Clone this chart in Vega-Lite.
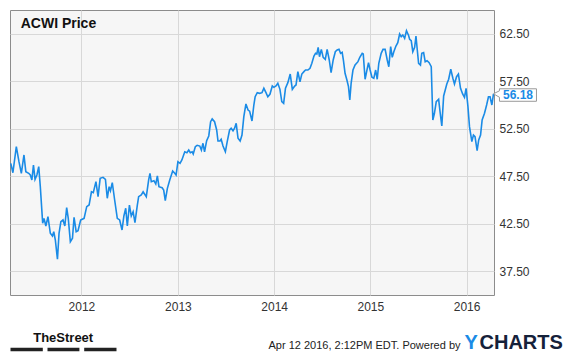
{
  "$schema": "https://vega.github.io/schema/vega-lite/v6.json",
  "width": 484,
  "height": 285,
  "autosize": {"type": "none"},
  "padding": {"left": 10, "top": 10, "right": 81, "bottom": 63},
  "background": "white",
  "title": {"text": "ACWI Price", "anchor": "start", "frame": "group", "orient": "top", "offset": -32, "dx": 10.7, "baseline": "alphabetic", "font": "Liberation Sans", "fontSize": 14, "fontWeight": "bold", "color": "#111111"},
  "config": {"view": {"fill": "#f6f6f6", "stroke": "#8c8c8c", "strokeWidth": 1}, "font": "Liberation Sans"},
  "data": {"values": [
    {"date": "2011-04-08", "price": 48.86}, {"date": "2011-04-16", "price": 47.87}, {"date": "2011-04-29", "price": 50.61},
    {"date": "2011-05-09", "price": 49.03}, {"date": "2011-05-18", "price": 47.81}, {"date": "2011-05-28", "price": 49.74},
    {"date": "2011-06-04", "price": 47.98}, {"date": "2011-06-15", "price": 47.81}, {"date": "2011-06-21", "price": 47.63},
    {"date": "2011-06-27", "price": 47.11}, {"date": "2011-07-03", "price": 48.68}, {"date": "2011-07-09", "price": 47.18},
    {"date": "2011-07-16", "price": 47.63}, {"date": "2011-07-23", "price": 48.51}, {"date": "2011-07-29", "price": 46.40},
    {"date": "2011-08-07", "price": 42.55}, {"date": "2011-08-12", "price": 43.07}, {"date": "2011-08-19", "price": 42.26},
    {"date": "2011-08-27", "price": 43.24}, {"date": "2011-09-05", "price": 41.50}, {"date": "2011-09-13", "price": 41.21},
    {"date": "2011-09-18", "price": 41.66}, {"date": "2011-09-24", "price": 40.79}, {"date": "2011-10-02", "price": 38.76},
    {"date": "2011-10-08", "price": 41.50}, {"date": "2011-10-15", "price": 42.72}, {"date": "2011-10-23", "price": 42.90},
    {"date": "2011-10-30", "price": 42.26}, {"date": "2011-11-06", "price": 44.19}, {"date": "2011-11-12", "price": 43.07},
    {"date": "2011-11-20", "price": 40.61}, {"date": "2011-11-28", "price": 40.97}, {"date": "2011-12-04", "price": 43.18},
    {"date": "2011-12-12", "price": 41.66}, {"date": "2011-12-19", "price": 41.77}, {"date": "2011-12-29", "price": 42.90},
    {"date": "2012-01-11", "price": 43.07}, {"date": "2012-01-21", "price": 44.30}, {"date": "2012-01-30", "price": 44.47},
    {"date": "2012-02-08", "price": 45.87}, {"date": "2012-02-15", "price": 45.77}, {"date": "2012-02-25", "price": 46.93},
    {"date": "2012-03-04", "price": 45.35}, {"date": "2012-03-12", "price": 47.28}, {"date": "2012-03-23", "price": 47.39},
    {"date": "2012-04-01", "price": 47.18}, {"date": "2012-04-08", "price": 45.18}, {"date": "2012-04-15", "price": 46.40},
    {"date": "2012-04-20", "price": 45.98}, {"date": "2012-04-27", "price": 46.82}, {"date": "2012-05-06", "price": 45.00},
    {"date": "2012-05-16", "price": 43.07}, {"date": "2012-05-25", "price": 42.90}, {"date": "2012-06-03", "price": 41.84},
    {"date": "2012-06-10", "price": 43.32}, {"date": "2012-06-17", "price": 44.13}, {"date": "2012-06-23", "price": 42.26},
    {"date": "2012-07-01", "price": 44.47}, {"date": "2012-07-08", "price": 43.32}, {"date": "2012-07-15", "price": 43.77},
    {"date": "2012-07-22", "price": 42.61}, {"date": "2012-07-31", "price": 44.47}, {"date": "2012-08-05", "price": 45.35},
    {"date": "2012-08-15", "price": 45.53}, {"date": "2012-08-22", "price": 45.87}, {"date": "2012-09-03", "price": 45.35},
    {"date": "2012-09-12", "price": 47.11}, {"date": "2012-09-17", "price": 47.81}, {"date": "2012-09-22", "price": 46.93},
    {"date": "2012-10-02", "price": 47.03}, {"date": "2012-10-09", "price": 46.68}, {"date": "2012-10-15", "price": 47.53},
    {"date": "2012-10-21", "price": 46.40}, {"date": "2012-11-02", "price": 46.29}, {"date": "2012-11-08", "price": 46.05},
    {"date": "2012-11-14", "price": 44.93}, {"date": "2012-11-22", "price": 46.23}, {"date": "2012-12-01", "price": 47.11},
    {"date": "2012-12-12", "price": 48.05}, {"date": "2012-12-20", "price": 47.81}, {"date": "2012-12-25", "price": 47.63},
    {"date": "2013-01-01", "price": 49.03}, {"date": "2013-01-09", "price": 48.86}, {"date": "2013-01-16", "price": 49.21},
    {"date": "2013-01-27", "price": 50.08}, {"date": "2013-02-04", "price": 49.98}, {"date": "2013-02-11", "price": 50.26},
    {"date": "2013-02-17", "price": 49.98}, {"date": "2013-02-24", "price": 50.08}, {"date": "2013-02-28", "price": 49.84},
    {"date": "2013-03-08", "price": 50.61}, {"date": "2013-03-15", "price": 50.76}, {"date": "2013-03-25", "price": 50.68},
    {"date": "2013-03-31", "price": 50.26}, {"date": "2013-04-06", "price": 50.97}, {"date": "2013-04-12", "price": 50.08},
    {"date": "2013-04-20", "price": 51.24}, {"date": "2013-04-28", "price": 51.74}, {"date": "2013-05-05", "price": 53.24},
    {"date": "2013-05-11", "price": 53.53}, {"date": "2013-05-20", "price": 53.24}, {"date": "2013-05-28", "price": 52.37},
    {"date": "2013-06-02", "price": 51.21}, {"date": "2013-06-09", "price": 51.21}, {"date": "2013-06-14", "price": 51.39},
    {"date": "2013-06-21", "price": 50.68}, {"date": "2013-06-30", "price": 50.08}, {"date": "2013-07-07", "price": 51.14},
    {"date": "2013-07-16", "price": 52.37}, {"date": "2013-07-22", "price": 52.55}, {"date": "2013-07-29", "price": 52.29},
    {"date": "2013-08-04", "price": 52.55}, {"date": "2013-08-10", "price": 53.07}, {"date": "2013-08-17", "price": 51.50},
    {"date": "2013-08-25", "price": 51.21}, {"date": "2013-09-01", "price": 51.84}, {"date": "2013-09-08", "price": 53.77},
    {"date": "2013-09-16", "price": 55.11}, {"date": "2013-09-24", "price": 54.47}, {"date": "2013-09-30", "price": 54.35},
    {"date": "2013-10-09", "price": 53.32}, {"date": "2013-10-16", "price": 55.00}, {"date": "2013-10-21", "price": 55.87},
    {"date": "2013-10-29", "price": 56.30}, {"date": "2013-11-07", "price": 56.23}, {"date": "2013-11-16", "price": 56.30},
    {"date": "2013-11-23", "price": 56.76}, {"date": "2013-12-01", "price": 56.30}, {"date": "2013-12-08", "price": 55.87},
    {"date": "2013-12-16", "price": 56.13}, {"date": "2013-12-25", "price": 57.00}, {"date": "2013-12-31", "price": 56.86},
    {"date": "2014-01-08", "price": 57.00}, {"date": "2014-01-15", "price": 57.28}, {"date": "2014-01-23", "price": 56.65},
    {"date": "2014-01-30", "price": 55.35}, {"date": "2014-02-06", "price": 55.18}, {"date": "2014-02-13", "price": 56.76},
    {"date": "2014-02-22", "price": 57.35}, {"date": "2014-03-03", "price": 58.26}, {"date": "2014-03-11", "price": 56.65},
    {"date": "2014-03-20", "price": 57.00}, {"date": "2014-03-25", "price": 57.11}, {"date": "2014-04-01", "price": 58.51},
    {"date": "2014-04-09", "price": 57.45}, {"date": "2014-04-16", "price": 58.26}, {"date": "2014-04-24", "price": 58.51},
    {"date": "2014-04-30", "price": 58.68}, {"date": "2014-05-09", "price": 58.68}, {"date": "2014-05-17", "price": 58.86},
    {"date": "2014-05-24", "price": 59.39}, {"date": "2014-06-01", "price": 60.16}, {"date": "2014-06-07", "price": 60.44},
    {"date": "2014-06-12", "price": 60.37}, {"date": "2014-06-17", "price": 61.07}, {"date": "2014-06-22", "price": 60.08},
    {"date": "2014-06-29", "price": 60.86}, {"date": "2014-07-06", "price": 60.02}, {"date": "2014-07-14", "price": 59.81},
    {"date": "2014-07-21", "price": 60.86}, {"date": "2014-07-29", "price": 59.74}, {"date": "2014-08-05", "price": 58.40},
    {"date": "2014-08-13", "price": 59.74}, {"date": "2014-08-21", "price": 60.61}, {"date": "2014-08-28", "price": 60.79},
    {"date": "2014-09-04", "price": 60.86}, {"date": "2014-09-10", "price": 60.44}, {"date": "2014-09-16", "price": 60.55},
    {"date": "2014-09-21", "price": 59.66}, {"date": "2014-09-27", "price": 58.34}, {"date": "2014-10-04", "price": 57.63},
    {"date": "2014-10-10", "price": 56.93}, {"date": "2014-10-15", "price": 55.53}, {"date": "2014-10-20", "price": 57.28},
    {"date": "2014-10-27", "price": 58.68}, {"date": "2014-11-04", "price": 59.21}, {"date": "2014-11-15", "price": 59.56},
    {"date": "2014-11-22", "price": 60.02}, {"date": "2014-12-01", "price": 60.44}, {"date": "2014-12-05", "price": 60.37},
    {"date": "2014-12-12", "price": 57.71}, {"date": "2014-12-19", "price": 58.68}, {"date": "2014-12-25", "price": 59.45},
    {"date": "2014-12-31", "price": 58.68}, {"date": "2015-01-07", "price": 57.92}, {"date": "2015-01-14", "price": 57.81},
    {"date": "2015-01-21", "price": 58.68}, {"date": "2015-01-27", "price": 57.71}, {"date": "2015-02-02", "price": 59.39},
    {"date": "2015-02-11", "price": 60.44}, {"date": "2015-02-18", "price": 60.86}, {"date": "2015-02-26", "price": 60.86},
    {"date": "2015-03-06", "price": 59.74}, {"date": "2015-03-12", "price": 59.03}, {"date": "2015-03-19", "price": 61.14},
    {"date": "2015-03-25", "price": 60.02}, {"date": "2015-03-31", "price": 60.61}, {"date": "2015-04-08", "price": 61.21},
    {"date": "2015-04-15", "price": 61.56}, {"date": "2015-04-22", "price": 62.47}, {"date": "2015-04-28", "price": 62.19},
    {"date": "2015-05-04", "price": 62.37}, {"date": "2015-05-11", "price": 62.02}, {"date": "2015-05-18", "price": 62.82},
    {"date": "2015-05-26", "price": 62.32}, {"date": "2015-05-30", "price": 61.92}, {"date": "2015-06-05", "price": 61.77},
    {"date": "2015-06-11", "price": 60.61}, {"date": "2015-06-18", "price": 61.07}, {"date": "2015-06-23", "price": 62.26},
    {"date": "2015-06-28", "price": 60.79}, {"date": "2015-07-03", "price": 59.39}, {"date": "2015-07-10", "price": 59.21},
    {"date": "2015-07-15", "price": 60.44}, {"date": "2015-07-22", "price": 60.51}, {"date": "2015-07-28", "price": 59.56},
    {"date": "2015-08-04", "price": 59.66}, {"date": "2015-08-12", "price": 59.45}, {"date": "2015-08-20", "price": 59.03},
    {"date": "2015-08-26", "price": 53.42}, {"date": "2015-09-01", "price": 54.13}, {"date": "2015-09-08", "price": 55.35},
    {"date": "2015-09-17", "price": 55.60}, {"date": "2015-09-23", "price": 54.13}, {"date": "2015-09-29", "price": 52.79},
    {"date": "2015-10-06", "price": 55.95}, {"date": "2015-10-12", "price": 56.58}, {"date": "2015-10-18", "price": 57.21},
    {"date": "2015-10-25", "price": 57.71}, {"date": "2015-11-02", "price": 58.76}, {"date": "2015-11-10", "price": 57.81},
    {"date": "2015-11-16", "price": 57.21}, {"date": "2015-11-24", "price": 57.98}, {"date": "2015-12-01", "price": 58.26},
    {"date": "2015-12-09", "price": 56.76}, {"date": "2015-12-17", "price": 56.16}, {"date": "2015-12-24", "price": 55.81},
    {"date": "2015-12-30", "price": 56.76}, {"date": "2016-01-06", "price": 54.89}, {"date": "2016-01-12", "price": 52.72},
    {"date": "2016-01-21", "price": 51.14}, {"date": "2016-01-27", "price": 51.84}, {"date": "2016-02-02", "price": 51.66},
    {"date": "2016-02-10", "price": 50.19}, {"date": "2016-02-16", "price": 51.32}, {"date": "2016-02-23", "price": 51.84},
    {"date": "2016-02-29", "price": 53.42}, {"date": "2016-03-09", "price": 54.13}, {"date": "2016-03-17", "price": 55.00},
    {"date": "2016-03-24", "price": 55.87}, {"date": "2016-03-30", "price": 55.87}, {"date": "2016-04-06", "price": 55.00},
    {"date": "2016-04-12", "price": 56.18}
  ]},
  "resolve": {"axis": {"x": "independent", "y": "independent"}},
  "layer": [
    {
      "mark": {"type": "line", "color": "#1a8be6", "strokeWidth": 1.6},
      "encoding": {
        "x": {
          "field": "date", "type": "temporal",
          "scale": {"type": "utc", "domain": [{"year": 2011, "month": 4, "date": 5, "utc": true}, {"year": 2016, "month": 4, "date": 14, "utc": true}]},
          "axis": {
            "orient": "bottom",
            "values": [{"year": 2012, "month": 1, "date": 1, "utc": true}, {"year": 2013, "month": 1, "date": 1, "utc": true}, {"year": 2014, "month": 1, "date": 1, "utc": true}, {"year": 2015, "month": 1, "date": 1, "utc": true}, {"year": 2016, "month": 1, "date": 1, "utc": true}],
            "format": "%Y", "grid": true, "gridColor": "#d8d8d8", "gridWidth": 1, "ticks": false, "domain": false,
            "labelFont": "Liberation Sans", "labelFontSize": 12, "labelColor": "#333333", "labelPadding": 6, "labelFlush": false,
            "title": "Apr 12 2016, 2:12PM EDT. Powered by", "titleX": 450, "titleY": 53, "titleAlign": "right", "titleBaseline": "alphabetic",
            "titleFont": "Liberation Sans", "titleFontSize": 11, "titleFontWeight": "normal", "titleColor": "#222222"
          }
        },
        "y": {
          "field": "price", "type": "quantitative",
          "scale": {"domain": [35, 65], "nice": false, "zero": false},
          "axis": {
            "orient": "right", "values": [37.5, 42.5, 47.5, 52.5, 57.5, 62.5], "format": ".2f",
            "grid": true, "gridColor": "#d8d8d8", "gridWidth": 1, "ticks": false, "domain": false,
            "labelFont": "Liberation Sans", "labelFontSize": 12, "labelColor": "#333333", "labelPadding": 5,
            "title": "CHARTS", "titleAngle": 0, "titleX": -15, "titleY": 338.3, "titleAlign": "left", "titleBaseline": "alphabetic",
            "titleFont": "Liberation Sans", "titleFontSize": 20, "titleFontWeight": "bold", "titleColor": "#15213a"
          }
        }
      }
    },
    {
      "transform": [{"filter": {"field": "date", "equal": {"year": 2016, "month": 4, "date": 12, "utc": true}}}],
      "mark": {"type": "point", "shape": "M0,0L0.6,-0.3L0.6,-0.5L4.3,-0.5L4.3,0.75L0.6,0.75L0.6,0.35Z", "size": 400, "filled": true, "fill": "white", "stroke": "#9a9a9a", "strokeWidth": 1, "opacity": 1},
      "encoding": {
        "x": {
          "field": "date", "type": "temporal",
          "axis": {
            "orient": "bottom", "offset": 54, "labels": false, "ticks": false, "grid": false,
            "domain": true, "domainColor": "#222222", "domainWidth": 3.4, "domainDash": [32.3, 4.7, 31.9, 4.8, 32.3, 600], "domainCap": "butt",
            "title": "TheStreet", "titleX": 52.7, "titleY": -7.3, "titleAlign": "center", "titleBaseline": "alphabetic",
            "titleFont": "Liberation Sans", "titleFontSize": 13, "titleFontWeight": "bold", "titleColor": "#111111"
          }
        },
        "y": {
          "field": "price", "type": "quantitative",
          "axis": {
            "orient": "left", "labels": false, "ticks": false, "grid": false, "domain": false,
            "title": "Y", "titleAngle": 0, "titleX": 453.9, "titleY": 338.3, "titleAlign": "left", "titleBaseline": "alphabetic",
            "titleFont": "Liberation Sans", "titleFontSize": 20, "titleFontWeight": "bold", "titleColor": "#1a8be6"
          }
        }
      }
    },
    {
      "transform": [{"filter": {"field": "date", "equal": {"year": 2016, "month": 4, "date": 12, "utc": true}}}],
      "mark": {"type": "text", "dx": 24.5, "dy": 1.5, "align": "center", "baseline": "middle", "font": "Liberation Sans", "fontSize": 12, "fontWeight": "bold", "color": "#1a8be6"},
      "encoding": {
        "x": {"field": "date", "type": "temporal", "axis": null},
        "y": {"field": "price", "type": "quantitative", "axis": null},
        "text": {"field": "price", "type": "quantitative", "format": ".2f"}
      }
    }
  ]
}
